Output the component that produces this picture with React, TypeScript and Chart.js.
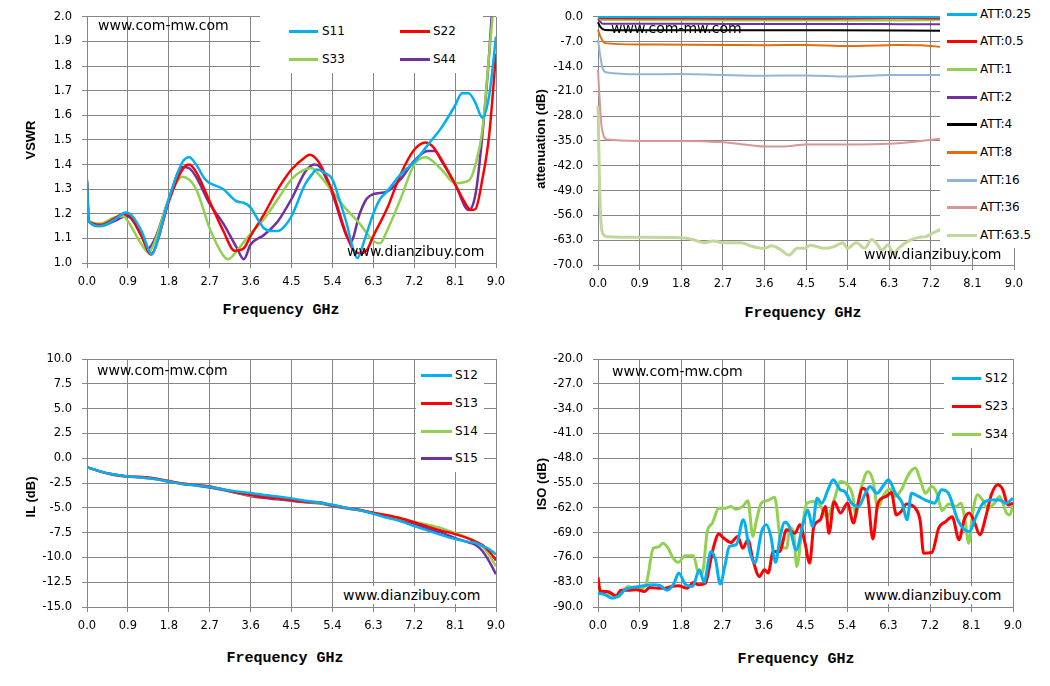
import React, { useEffect, useRef } from "react";
import { Chart, registerables } from "chart.js";

Chart.register(...registerables);

// ---------- Top-left: VSWR ----------
const s11Freq = [0, 0.04, 0.3, 0.6, 0.85, 1.0, 1.2, 1.43, 1.5, 1.8, 2.1, 2.25, 2.4, 2.6, 2.7, 3.0, 3.3, 3.45, 3.6, 3.75, 3.9, 4.05, 4.2, 4.35, 4.5, 4.8, 4.95, 5.05, 5.2, 5.4, 5.55, 5.7, 5.85, 5.95, 6.1, 6.3, 6.45, 6.6, 6.9, 7.2, 7.5, 7.8, 8.1, 8.25, 8.4, 8.55, 8.7, 8.85, 9.0];
const s11Vswr = [1.34, 1.17, 1.15, 1.175, 1.205, 1.19, 1.13, 1.035, 1.06, 1.26, 1.41, 1.43, 1.4, 1.34, 1.325, 1.3, 1.25, 1.245, 1.225, 1.18, 1.14, 1.13, 1.13, 1.15, 1.19, 1.32, 1.36, 1.38, 1.37, 1.34, 1.26, 1.17, 1.06, 1.02, 1.09, 1.2, 1.26, 1.29, 1.36, 1.41, 1.48, 1.55, 1.64, 1.69, 1.69, 1.65, 1.59, 1.68, 1.92];
const s22Freq = [0, 0.04, 0.3, 0.6, 0.8, 0.95, 1.2, 1.4, 1.5, 1.8, 2.1, 2.25, 2.4, 2.7, 3.0, 3.25, 3.45, 3.6, 3.9, 4.2, 4.5, 4.8, 4.9, 5.1, 5.4, 5.7, 5.85, 6.0, 6.15, 6.3, 6.6, 6.9, 7.2, 7.45, 7.6, 7.8, 8.1, 8.3, 8.45, 8.55, 8.7, 8.85, 9.0];
const s22Vswr = [1.33, 1.17, 1.155, 1.18, 1.2, 1.19, 1.11, 1.035, 1.06, 1.25, 1.38, 1.4, 1.37, 1.25, 1.13, 1.05, 1.06, 1.11, 1.2, 1.3, 1.38, 1.43, 1.44, 1.41, 1.29, 1.12, 1.056, 1.04, 1.05, 1.11, 1.22, 1.36, 1.46, 1.49, 1.475, 1.42, 1.32, 1.25, 1.215, 1.22, 1.34, 1.52, 1.85];
const s33Freq = [0, 0.04, 0.3, 0.6, 0.8, 0.9, 1.2, 1.35, 1.5, 1.8, 2.1, 2.4, 2.7, 3.0, 3.1, 3.3, 3.6, 3.9, 4.2, 4.5, 4.8, 4.95, 5.1, 5.4, 5.7, 6.0, 6.3, 6.45, 6.6, 6.9, 7.2, 7.45, 7.8, 8.1, 8.4, 8.55, 8.7, 8.85, 8.95];
const s33Vswr = [1.33, 1.17, 1.16, 1.185, 1.19, 1.17, 1.076, 1.043, 1.09, 1.26, 1.35, 1.3, 1.14, 1.03, 1.015, 1.05, 1.12, 1.18, 1.26, 1.34, 1.38, 1.385, 1.36, 1.29, 1.22, 1.16, 1.09, 1.08, 1.13, 1.26, 1.4, 1.43, 1.38, 1.325, 1.335, 1.4, 1.54, 1.85, 2.05];
const s44Freq = [0, 0.04, 0.3, 0.6, 0.85, 0.95, 1.2, 1.35, 1.5, 1.8, 2.1, 2.25, 2.4, 2.7, 3.0, 3.3, 3.45, 3.6, 3.9, 4.2, 4.5, 4.8, 5.0, 5.1, 5.4, 5.7, 5.8, 6.0, 6.15, 6.3, 6.6, 6.9, 7.2, 7.5, 7.65, 7.8, 8.1, 8.4, 8.55, 8.7, 8.85, 8.92];
const s44Vswr = [1.33, 1.17, 1.15, 1.17, 1.19, 1.185, 1.11, 1.06, 1.1, 1.26, 1.39, 1.385, 1.35, 1.24, 1.16, 1.06, 1.015, 1.075, 1.115, 1.17, 1.26, 1.37, 1.4, 1.395, 1.28, 1.115, 1.085, 1.2, 1.26, 1.28, 1.29, 1.34, 1.415, 1.455, 1.455, 1.415, 1.32, 1.215, 1.28, 1.52, 1.85, 2.05];
const vswrLabels = ["S11", "S22", "S33", "S44"];

// ---------- Top-right: attenuation ----------
const att025Freq = [0, 0.5, 3.0, 5.0, 7.45];
const att025Db = [0, -0.05, -0.1, -0.1, -0.1];
const att05Freq = [0, 0.1, 1.0, 3.0, 5.0, 6.5, 7.45];
const att05Db = [-0.1, -0.4, -0.45, -0.5, -0.5, -0.4, -0.45];
const att1Freq = [0, 0.1, 1.0, 3.0, 5.0, 6.5, 7.45];
const att1Db = [-0.2, -0.9, -0.95, -1.0, -1.0, -1.0, -0.9];
const att2Freq = [0, 0.1, 1.0, 3.0, 5.0, 6.5, 7.45];
const att2Db = [-0.5, -1.9, -1.9, -2.0, -2.0, -2.05, -2.1];
const att4Freq = [0, 0.05, 0.15, 1.0, 3.0, 5.0, 7.45];
const att4Db = [-1.5, -2.8, -3.7, -3.8, -3.8, -3.8, -3.9];
const att8Freq = [0, 0.05, 0.15, 0.9, 2.7, 3.6, 4.5, 5.4, 6.3, 6.5, 7.0, 7.45];
const att8Db = [-3.6, -5.5, -7.4, -7.8, -7.9, -8.0, -7.9, -8.2, -8.0, -7.9, -8.0, -8.5];
const att16Freq = [0, 0.05, 0.1, 0.2, 0.9, 1.8, 2.7, 3.6, 4.5, 5.4, 6.3, 7.45];
const att16Db = [-6.5, -11, -14.5, -15.7, -16.2, -16.1, -16.4, -16.6, -16.5, -16.8, -16.4, -16.4];
const att36Freq = [0, 0.03, 0.07, 0.12, 0.2, 0.9, 1.8, 2.7, 3.3, 3.6, 4.0, 4.5, 5.4, 6.3, 7.0, 7.45];
const att36Db = [-15, -22, -30, -33.5, -34.6, -35.0, -35.0, -35.4, -36.2, -36.6, -36.6, -36.0, -36.0, -35.8, -35.0, -34.3];
const att635Freq = [0, 0.03, 0.06, 0.1, 0.2, 0.9, 1.8, 2.1, 2.3, 2.5, 2.7, 3.1, 3.3, 3.58, 3.76, 3.94, 4.13, 4.31, 4.46, 4.6, 4.9, 5.11, 5.3, 5.4, 5.59, 5.77, 5.92, 6.03, 6.14, 6.28, 6.39, 6.5, 6.72, 6.94, 7.09, 7.23, 7.45];
const att635Db = [-25, -45, -57, -61, -62, -62.2, -62.3, -63, -63.7, -63.2, -63.7, -63.7, -64.6, -65.3, -64.6, -65.6, -67.2, -65.3, -65.3, -64.4, -65.3, -64.8, -63.7, -65.3, -63.7, -65.3, -62.8, -64.0, -65.8, -64.3, -66.9, -65.3, -63.2, -62.2, -62.0, -61.1, -59.7];
const attLabels = ["ATT:0.25", "ATT:0.5", "ATT:1", "ATT:2", "ATT:4", "ATT:8", "ATT:16", "ATT:36", "ATT:63.5"];

// ---------- Bottom-left: insertion loss ----------
const ilFreq = [0, 0.3, 0.6, 0.9, 1.2, 1.5, 1.8, 2.1, 2.4, 2.7, 3.0, 3.3, 3.6, 3.9, 4.2, 4.5, 4.8, 5.1, 5.4, 5.7, 6.0, 6.3, 6.6, 6.9, 7.2, 7.5, 7.8, 8.1, 8.4, 8.55, 8.7, 8.85, 9.0];
const il12 = [-0.9, -1.35, -1.65, -1.85, -1.95, -2.1, -2.35, -2.6, -2.75, -2.9, -3.15, -3.35, -3.5, -3.7, -3.85, -4.05, -4.3, -4.45, -4.7, -5.0, -5.25, -5.6, -6.0, -6.35, -6.85, -7.3, -7.75, -8.15, -8.45, -8.55, -8.85, -9.15, -9.7];
const il13 = [-0.9, -1.35, -1.65, -1.85, -1.9, -2.05, -2.3, -2.55, -2.7, -2.85, -3.15, -3.45, -3.7, -3.9, -4.05, -4.25, -4.4, -4.45, -4.75, -5.0, -5.2, -5.5, -5.75, -6.05, -6.45, -6.9, -7.3, -7.65, -8.1, -8.4, -8.75, -9.4, -10.3];
const il14 = [-0.9, -1.35, -1.65, -1.85, -1.9, -2.05, -2.3, -2.55, -2.7, -2.85, -3.15, -3.45, -3.75, -3.85, -4.05, -4.25, -4.4, -4.5, -4.75, -5.0, -5.25, -5.55, -5.8, -6.1, -6.4, -6.7, -7.05, -7.55, -8.05, -8.4, -8.9, -9.8, -10.9];
const il15 = [-0.9, -1.35, -1.7, -1.85, -1.95, -2.1, -2.35, -2.6, -2.75, -2.95, -3.2, -3.5, -3.8, -4.0, -4.15, -4.3, -4.45, -4.55, -4.8, -5.05, -5.25, -5.55, -5.9, -6.25, -6.6, -7.1, -7.5, -8.05, -8.5, -8.75, -9.35, -10.4, -11.7];
const ilLabels = ["S12", "S13", "S14", "S15"];

// ---------- Bottom-right: isolation ----------
const iso12Freq = [0, 0.15, 0.3, 0.45, 0.6, 0.9, 1.2, 1.35, 1.5, 1.65, 1.75, 1.9, 2.05, 2.2, 2.3, 2.45, 2.55, 2.65, 2.75, 2.85, 3.0, 3.15, 3.3, 3.4, 3.55, 3.65, 3.75, 3.85, 3.95, 4.05, 4.15, 4.3, 4.45, 4.55, 4.65, 4.75, 4.85, 5.0, 5.1, 5.25, 5.35, 5.5, 5.65, 5.8, 5.9, 6.05, 6.2, 6.3, 6.45, 6.6, 6.7, 6.8, 6.95, 7.1, 7.3, 7.45, 7.6, 7.8, 7.95, 8.05, 8.2, 8.35, 8.55, 8.7, 8.85, 9.0];
const iso12Db = [-86.1, -86.5, -87.5, -86.8, -85.0, -84.2, -83.7, -84.0, -85.3, -83.3, -80.4, -83.7, -84.2, -79.5, -83.0, -74.3, -76.7, -83.5, -78.5, -72.9, -72.4, -65.4, -74.8, -77.6, -68.7, -66.8, -70.1, -77.4, -70.1, -66.1, -67.3, -73.9, -66.3, -62.6, -67.3, -59.3, -60.7, -56.5, -54.1, -56.9, -57.4, -60.7, -61.6, -57.9, -56.0, -57.9, -55.5, -54.1, -57.9, -60.7, -65.4, -57.9, -58.8, -59.8, -60.7, -56.9, -57.9, -65.4, -68.2, -68.7, -64.5, -60.7, -59.8, -59.8, -60.7, -59.3];
const iso23Freq = [0, 0.05, 0.2, 0.39, 0.5, 0.65, 0.83, 1.01, 1.12, 1.3, 1.45, 1.6, 1.74, 1.93, 2.07, 2.18, 2.33, 2.44, 2.51, 2.62, 2.73, 2.88, 3.03, 3.14, 3.25, 3.36, 3.5, 3.61, 3.69, 3.8, 3.94, 4.09, 4.2, 4.27, 4.38, 4.49, 4.59, 4.68, 4.82, 4.93, 5.01, 5.12, 5.26, 5.41, 5.54, 5.63, 5.74, 5.85, 5.96, 6.07, 6.25, 6.36, 6.47, 6.58, 6.69, 6.88, 6.99, 7.06, 7.24, 7.39, 7.54, 7.68, 7.83, 7.94, 8.05, 8.16, 8.28, 8.42, 8.53, 8.67, 8.78, 8.89, 9.0];
const iso23Db = [-81.6, -85.6, -85.6, -86.8, -85.3, -85.3, -85.1, -85.6, -84.5, -84.7, -84.7, -84.2, -84.0, -84.7, -83.1, -83.7, -83.3, -77.1, -72.9, -69.4, -70.6, -71.8, -70.1, -73.4, -71.0, -76.7, -81.4, -79.5, -80.4, -74.3, -74.3, -68.2, -68.7, -69.2, -66.8, -72.0, -77.6, -67.3, -65.4, -61.6, -69.2, -60.2, -63.5, -60.7, -66.3, -61.2, -56.5, -58.8, -70.8, -60.7, -58.8, -57.7, -64.0, -63.0, -60.9, -62.1, -65.9, -74.8, -74.6, -67.7, -65.9, -64.5, -71.0, -65.4, -63.5, -65.9, -69.6, -64.0, -58.3, -55.5, -56.9, -61.2, -60.7];
const iso34Freq = [0, 0.2, 0.43, 0.65, 0.8, 0.94, 1.05, 1.2, 1.3, 1.41, 1.52, 1.63, 1.74, 1.89, 2.07, 2.18, 2.26, 2.37, 2.48, 2.62, 2.77, 2.88, 2.99, 3.14, 3.25, 3.36, 3.43, 3.54, 3.69, 3.83, 3.98, 4.09, 4.16, 4.24, 4.31, 4.42, 4.53, 4.68, 4.82, 4.97, 5.12, 5.26, 5.41, 5.52, 5.59, 5.7, 5.85, 5.96, 6.07, 6.18, 6.33, 6.44, 6.58, 6.73, 6.88, 6.99, 7.1, 7.24, 7.35, 7.46, 7.61, 7.76, 7.87, 7.96, 8.04, 8.12, 8.23, 8.34, 8.45, 8.6, 8.71, 8.86, 8.93, 9.0];
const iso34Db = [-85.1, -86.1, -87.2, -84.2, -84.9, -84.7, -83.3, -73.4, -73.1, -72.0, -73.4, -76.2, -77.4, -75.5, -75.5, -80.4, -80.4, -68.7, -66.3, -62.1, -62.1, -61.6, -62.4, -61.6, -60.0, -70.1, -65.9, -60.7, -59.9, -59.0, -72.9, -73.4, -67.7, -68.7, -78.6, -68.7, -60.7, -60.2, -61.4, -64.5, -59.8, -54.6, -55.5, -58.3, -64.0, -56.9, -51.8, -54.1, -62.1, -58.8, -56.7, -58.8, -56.9, -52.7, -50.8, -54.1, -57.9, -56.0, -57.9, -62.8, -60.9, -61.6, -60.7, -65.4, -72.0, -64.0, -58.3, -59.8, -62.1, -60.7, -58.8, -63.5, -64.0, -61.2];
const isoLabels = ["S12", "S23", "S34"];

const BLUE = "#00B0F0";
const RED = "#FF0000";
const GREEN = "#92D050";
const PURPLE = "#7030A0";
const GRID = "#868686";

type Series = { label: string; f: number[]; v: number[]; color: string; width: number };

type PanelProps = {
  left: number;
  top: number;
  width: number;
  height: number;
  series: Series[];
  yMin: number;
  yMax: number;
  yStep: number;
  padTop: number;
  padRight: number;
  yWidth: number;
  xHeight: number;
  clip?: number;
};

function Panel(p: PanelProps) {
  const ref = useRef<HTMLCanvasElement>(null);
  useEffect(() => {
    const tickFont = { family: "'DejaVu Sans', sans-serif", size: 11.5 };
    const chart = new Chart(ref.current as HTMLCanvasElement, {
      type: "line",
      data: {
        datasets: p.series.map((s) => ({
          label: s.label,
          data: s.f.map((x, i) => ({ x, y: s.v[i] })),
          borderColor: s.color,
          backgroundColor: s.color,
          borderWidth: s.width,
          pointRadius: 0,
          fill: false,
          cubicInterpolationMode: "monotone" as const,
          ...(p.clip !== undefined ? { clip: p.clip } : {}),
        })),
      },
      options: {
        animation: false,
        responsive: false,
        maintainAspectRatio: false,
        events: [],
        layout: { padding: { top: p.padTop, right: p.padRight, left: 0, bottom: 0 } },
        plugins: { legend: { display: false }, tooltip: { enabled: false }, title: { display: false } },
        scales: {
          x: {
            type: "linear",
            min: 0,
            max: 9,
            ticks: {
              stepSize: 0.9,
              autoSkip: false,
              maxRotation: 0,
              padding: 7,
              color: "#000",
              font: tickFont,
              callback: (v: any) => Number(v).toFixed(1),
            },
            grid: { color: GRID, lineWidth: 1, tickLength: 5, tickColor: GRID },
            border: { color: GRID, width: 1 },
            afterFit: (s: any) => {
              s.height = p.xHeight;
            },
          },
          y: {
            type: "linear",
            min: p.yMin,
            max: p.yMax,
            ticks: {
              stepSize: p.yStep,
              autoSkip: false,
              padding: 10,
              color: "#000",
              font: tickFont,
              callback: (v: any) => Number(v).toFixed(1),
            },
            grid: { color: GRID, lineWidth: 1, tickLength: 5, tickColor: GRID },
            border: { color: GRID, width: 1 },
            afterFit: (s: any) => {
              s.width = p.yWidth;
            },
          },
        },
      } as any,
    });
    return () => chart.destroy();
  }, []);
  return (
    <canvas
      ref={ref}
      width={p.width}
      height={p.height}
      style={{ position: "absolute", left: p.left, top: p.top, width: p.width, height: p.height }}
    />
  );
}

const abs = (x: number, y: number): React.CSSProperties => ({ position: "absolute", left: x, top: y });

function Mark({ x, y, text, white, w }: { x: number; y: number; text: string; white?: boolean; w?: number }) {
  return (
    <div
      style={{
        ...abs(x, y - 9),
        font: "14px 'DejaVu Sans', sans-serif",
        lineHeight: "18px",
        color: "#000",
        whiteSpace: "nowrap",
        background: white ? "#fff" : "transparent",
        width: w,
      }}
    >
      {text}
    </div>
  );
}

function LegendEntry({ x1, x2, y, tx, color, label }: { x1: number; x2: number; y: number; tx: number; color: string; label: string }) {
  return (
    <>
      <div style={{ ...abs(x1, y - 1.5), width: x2 - x1, height: 3, background: color }} />
      <div
        style={{
          ...abs(tx, y - 8),
          font: "12px 'DejaVu Sans', sans-serif",
          lineHeight: "16px",
          color: "#000",
          whiteSpace: "nowrap",
        }}
      >
        {label}
      </div>
    </>
  );
}

function YTitle({ cx, cy, text }: { cx: number; cy: number; text: string }) {
  return (
    <div
      style={{
        ...abs(cx, cy),
        transform: "translate(-50%, -50%) rotate(-90deg)",
        font: "bold 13px 'Liberation Sans', Arial, sans-serif",
        whiteSpace: "nowrap",
        color: "#000",
      }}
    >
      {text}
    </div>
  );
}

function XTitle({ cx, cy }: { cx: number; cy: number }) {
  return (
    <div
      style={{
        ...abs(cx, cy),
        transform: "translate(-50%, -50%)",
        font: "bold 15px 'Liberation Mono', monospace",
        whiteSpace: "nowrap",
        color: "#000",
      }}
    >
      Frequency GHz
    </div>
  );
}

export default function App() {
  const vswrColors = [BLUE, RED, GREEN, PURPLE];
  const vswrSeries: Series[] = [
    { label: vswrLabels[0], f: s11Freq, v: s11Vswr, color: BLUE, width: 2.5 },
    { label: vswrLabels[1], f: s22Freq, v: s22Vswr, color: RED, width: 2.5 },
    { label: vswrLabels[2], f: s33Freq, v: s33Vswr, color: GREEN, width: 2.5 },
    { label: vswrLabels[3], f: s44Freq, v: s44Vswr, color: PURPLE, width: 2.5 },
  ];
  const attColors = [BLUE, RED, GREEN, PURPLE, "#000000", "#E46C0A", "#95B3D7", "#D99694", "#C3D69B"];
  const attF = [att025Freq, att05Freq, att1Freq, att2Freq, att4Freq, att8Freq, att16Freq, att36Freq, att635Freq];
  const attV = [att025Db, att05Db, att1Db, att2Db, att4Db, att8Db, att16Db, att36Db, att635Db];
  const attSeries: Series[] = attLabels.map((l, i) => ({
    label: l,
    f: attF[i],
    v: attV[i],
    color: attColors[i],
    width: i === 8 ? 3 : 2,
  }));
  const ilColors = [BLUE, RED, GREEN, PURPLE];
  const ilVals = [il12, il13, il14, il15];
  const ilSeries: Series[] = ilLabels.map((l, i) => ({ label: l, f: ilFreq, v: ilVals[i], color: ilColors[i], width: 2.5 }));
  const isoColors = [BLUE, RED, GREEN];
  const isoF = [iso12Freq, iso23Freq, iso34Freq];
  const isoV = [iso12Db, iso23Db, iso34Db];
  const isoSeries: Series[] = isoLabels.map((l, i) => ({ label: l, f: isoF[i], v: isoV[i], color: isoColors[i], width: 3 }));

  return (
    <div style={{ position: "absolute", left: 0, top: 0, width: 1050, height: 686, background: "#fff", overflow: "hidden" }}>
      <Panel left={0} top={0} width={525} height={300} series={vswrSeries} yMin={1} yMax={2} yStep={0.1} padTop={12} padRight={29} yWidth={87} xHeight={37} />
      <Panel left={525} top={0} width={525} height={300} series={attSeries} yMin={-70} yMax={0} yStep={7} padTop={16} padRight={36} yWidth={73} xHeight={35} clip={4} />
      <Panel left={0} top={340} width={525} height={300} series={ilSeries} yMin={-15} yMax={10} yStep={2.5} padTop={19} padRight={29} yWidth={87} xHeight={33} />
      <Panel left={525} top={340} width={525} height={300} series={isoSeries} yMin={-90} yMax={-20} yStep={7} padTop={19} padRight={37} yWidth={73} xHeight={33} />

      {/* Top-left overlays */}
      <Mark x={98} y={25} text="www.com-mw.com" />
      <div style={{ ...abs(260, 13), width: 223, height: 60, background: "#fff" }} />
      <LegendEntry x1={289} x2={318} y={31} tx={322} color={vswrColors[0]} label={vswrLabels[0]} />
      <LegendEntry x1={400} x2={430} y={31} tx={433} color={vswrColors[1]} label={vswrLabels[1]} />
      <LegendEntry x1={289} x2={318} y={59} tx={322} color={vswrColors[2]} label={vswrLabels[2]} />
      <LegendEntry x1={400} x2={430} y={59} tx={433} color={vswrColors[3]} label={vswrLabels[3]} />
      <Mark x={347} y={251} text="www.dianzibuy.com" />
      <YTitle cx={30} cy={140} text="VSWR" />
      <XTitle cx={281} cy={310} />

      {/* Top-right overlays */}
      <Mark x={611} y={28} text="www.com-mw.com" />
      <div style={{ ...abs(940, 0), width: 110, height: 248, background: "#fff" }} />
      {attLabels.map((l, i) => (
        <LegendEntry key={l} x1={947} x2={977} y={[14, 41, 69, 97, 124, 152, 180, 207, 235][i]} tx={980} color={attColors[i]} label={l} />
      ))}
      <Mark x={864} y={254} text="www.dianzibuy.com" />
      <YTitle cx={540} cy={139} text="attenuation (dB)" />
      <XTitle cx={803} cy={313} />

      {/* Bottom-left overlays */}
      <Mark x={97} y={370} text="www.com-mw.com" />
      <div style={{ ...abs(416, 360), width: 68, height: 112, background: "#fff" }} />
      {ilLabels.map((l, i) => (
        <LegendEntry key={l} x1={421} x2={452} y={[375, 403, 431, 458][i]} tx={455} color={ilColors[i]} label={l} />
      ))}
      <Mark x={343} y={595} text="www.dianzibuy.com" white w={146} />
      <YTitle cx={30} cy={497} text="IL (dB)" />
      <XTitle cx={285} cy={658} />

      {/* Bottom-right overlays */}
      <Mark x={612} y={371} text="www.com-mw.com" />
      <div style={{ ...abs(944, 360), width: 68, height: 88, background: "#fff" }} />
      {isoLabels.map((l, i) => (
        <LegendEntry key={l} x1={952} x2={981} y={[378, 406, 434][i]} tx={985} color={isoColors[i]} label={l} />
      ))}
      <Mark x={864} y={595} text="www.dianzibuy.com" white w={144} />
      <YTitle cx={541} cy={484} text="ISO (dB)" />
      <XTitle cx={796} cy={659} />
    </div>
  );
}
